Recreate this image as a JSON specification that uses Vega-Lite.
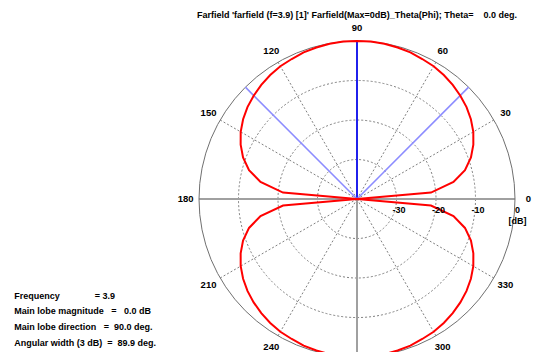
{
  "$schema": "https://vega.github.io/schema/vega-lite/v6.json",
  "autosize": {"type": "none"},
  "padding": {"left": 199, "top": 41, "right": 24, "bottom": 0},
  "width": 316,
  "height": 311,
  "background": "white",
  "config": {"view": {"stroke": null}},
  "title": {
    "text": "Farfield 'farfield (f=3.9) [1]' Farfield(Max=0dB)_Theta(Phi); Theta=\u00a0\u00a0\u00a0\u00a00.0 deg.",
    "font": "Liberation Sans",
    "fontSize": 9,
    "fontWeight": "bold",
    "color": "#000000",
    "anchor": "middle",
    "frame": "group",
    "offset": 3
  },
  "datasets": {
    "pattern": [
      {"angle": 0, "db": -40}, {"angle": 5, "db": -21.2}, {"angle": 10, "db": -15.2}, {"angle": 15, "db": -11.7},
      {"angle": 20, "db": -9.3}, {"angle": 25, "db": -7.5}, {"angle": 30, "db": -6.0}, {"angle": 35, "db": -4.8},
      {"angle": 40, "db": -3.8}, {"angle": 45, "db": -3.0}, {"angle": 50, "db": -2.3}, {"angle": 55, "db": -1.7},
      {"angle": 60, "db": -1.2}, {"angle": 65, "db": -0.9}, {"angle": 70, "db": -0.5}, {"angle": 75, "db": -0.3},
      {"angle": 80, "db": -0.1}, {"angle": 85, "db": 0.0}, {"angle": 90, "db": 0.0}, {"angle": 95, "db": 0.0},
      {"angle": 100, "db": -0.1}, {"angle": 105, "db": -0.3}, {"angle": 110, "db": -0.5}, {"angle": 115, "db": -0.9},
      {"angle": 120, "db": -1.2}, {"angle": 125, "db": -1.7}, {"angle": 130, "db": -2.3}, {"angle": 135, "db": -3.0},
      {"angle": 140, "db": -3.8}, {"angle": 145, "db": -4.8}, {"angle": 150, "db": -6.0}, {"angle": 155, "db": -7.5},
      {"angle": 160, "db": -9.3}, {"angle": 165, "db": -11.7}, {"angle": 170, "db": -15.2}, {"angle": 175, "db": -21.2},
      {"angle": 180, "db": -40}, {"angle": 185, "db": -21.2}, {"angle": 190, "db": -15.2}, {"angle": 195, "db": -11.7},
      {"angle": 200, "db": -9.3}, {"angle": 205, "db": -7.5}, {"angle": 210, "db": -6.0}, {"angle": 215, "db": -4.8},
      {"angle": 220, "db": -3.8}, {"angle": 225, "db": -3.0}, {"angle": 230, "db": -2.3}, {"angle": 235, "db": -1.7},
      {"angle": 240, "db": -1.2}, {"angle": 245, "db": -0.9}, {"angle": 250, "db": -0.5}, {"angle": 255, "db": -0.3},
      {"angle": 260, "db": -0.1}, {"angle": 265, "db": 0.0}, {"angle": 270, "db": 0.0}, {"angle": 275, "db": 0.0},
      {"angle": 280, "db": -0.1}, {"angle": 285, "db": -0.3}, {"angle": 290, "db": -0.5}, {"angle": 295, "db": -0.9},
      {"angle": 300, "db": -1.2}, {"angle": 305, "db": -1.7}, {"angle": 310, "db": -2.3}, {"angle": 315, "db": -3.0},
      {"angle": 320, "db": -3.8}, {"angle": 325, "db": -4.8}, {"angle": 330, "db": -6.0}, {"angle": 335, "db": -7.5},
      {"angle": 340, "db": -9.3}, {"angle": 345, "db": -11.7}, {"angle": 350, "db": -15.2}, {"angle": 355, "db": -21.2},
      {"angle": 360, "db": -40}
    ],
    "gridCircles": [{"db": -30}, {"db": -20}, {"db": -10}],
    "outerCircle": [{"db": 0}],
    "spokes": [{"angle": 30}, {"angle": 60}, {"angle": 120}, {"angle": 150}, {"angle": 210}, {"angle": 240}, {"angle": 300}, {"angle": 330}],
    "axes": [{"angle": 0}, {"angle": 90}, {"angle": 180}, {"angle": 270}],
    "beams": [
      {"angle": 90, "kind": "Main lobe direction"},
      {"angle": 45.05, "kind": "3 dB limit"},
      {"angle": 134.95, "kind": "3 dB limit"}
    ],
    "angleLabels": [
      {"angle": 0, "label": "0"}, {"angle": 30, "label": "30"}, {"angle": 60, "label": "60"}, {"angle": 90, "label": "90"},
      {"angle": 120, "label": "120"}, {"angle": 150, "label": "150"}, {"angle": 180, "label": "180"}, {"angle": 210, "label": "210"},
      {"angle": 240, "label": "240"}, {"angle": 300, "label": "300"}, {"angle": 330, "label": "330"}
    ],
    "dbLabels": [{"db": -30, "label": "-30"}, {"db": -20, "label": "-20"}, {"db": -10, "label": "-10"}, {"db": 0, "label": "0"}],
    "unitLabel": [{"label": "[dB]", "db": 0}],
    "info": [{"lines": [
      "Frequency\u00a0\u00a0\u00a0\u00a0\u00a0\u00a0\u00a0\u00a0\u00a0\u00a0\u00a0\u00a0\u00a0\u00a0= 3.9",
      "Main lobe magnitude\u00a0\u00a0\u00a0=\u00a0\u00a0\u00a00.0 dB",
      "Main lobe direction\u00a0\u00a0\u00a0=\u00a0\u00a090.0 deg.",
      "Angular width (3 dB)\u00a0\u00a0=\u00a0\u00a089.9 deg."
    ]}]
  },
  "layer": [
    {
      "data": {"name": "gridCircles"},
      "transform": [
        {"calculate": "datum.db + 40", "as": "r"},
        {"calculate": "0", "as": "cx"},
        {"calculate": "0", "as": "cy"}
      ],
      "mark": {"type": "point", "shape": "circle", "filled": false, "stroke": "#808080", "strokeWidth": 1, "strokeDash": [2, 2], "opacity": 1, "clip": false},
      "encoding": {
        "x": {"field": "cx", "type": "quantitative", "scale": {"domain": [-40, 40], "nice": false, "zero": false}, "axis": null},
        "y": {"field": "cy", "type": "quantitative", "scale": {"domain": [-38.73, 40], "nice": false, "zero": false}, "axis": null},
        "size": {"field": "r", "type": "quantitative", "scale": {"type": "pow", "exponent": 2, "domain": [0, 40], "range": [0, 99856]}, "legend": null}
      }
    },
    {
      "data": {"name": "spokes"},
      "transform": [
        {"calculate": "0", "as": "x0"},
        {"calculate": "0", "as": "y0"},
        {"calculate": "40 * cos(datum.angle * PI / 180)", "as": "xe"},
        {"calculate": "40 * sin(datum.angle * PI / 180)", "as": "ye"}
      ],
      "mark": {"type": "rule", "stroke": "#808080", "strokeWidth": 1, "strokeDash": [2, 2]},
      "encoding": {
        "x": {"field": "x0", "type": "quantitative", "axis": null},
        "y": {"field": "y0", "type": "quantitative", "axis": null},
        "x2": {"field": "xe"},
        "y2": {"field": "ye"}
      }
    },
    {
      "data": {"name": "axes"},
      "transform": [
        {"calculate": "0", "as": "x0"},
        {"calculate": "0", "as": "y0"},
        {"calculate": "40 * cos(datum.angle * PI / 180)", "as": "xe"},
        {"calculate": "40 * sin(datum.angle * PI / 180)", "as": "ye"}
      ],
      "mark": {"type": "rule", "stroke": "#a0a0a0", "strokeWidth": 2},
      "encoding": {
        "x": {"field": "x0", "type": "quantitative", "axis": null},
        "y": {"field": "y0", "type": "quantitative", "axis": null},
        "x2": {"field": "xe"},
        "y2": {"field": "ye"}
      }
    },
    {
      "data": {"name": "outerCircle"},
      "transform": [
        {"calculate": "datum.db + 40", "as": "r"},
        {"calculate": "0", "as": "cx"},
        {"calculate": "0", "as": "cy"}
      ],
      "mark": {"type": "point", "shape": "circle", "filled": false, "stroke": "#707070", "strokeWidth": 1, "opacity": 1, "clip": false},
      "encoding": {
        "x": {"field": "cx", "type": "quantitative", "axis": null},
        "y": {"field": "cy", "type": "quantitative", "axis": null},
        "size": {"field": "r", "type": "quantitative", "legend": null}
      }
    },
    {
      "data": {"name": "beams"},
      "transform": [
        {"calculate": "0", "as": "x0"},
        {"calculate": "0", "as": "y0"},
        {"calculate": "40 * cos(datum.angle * PI / 180)", "as": "xe"},
        {"calculate": "40 * sin(datum.angle * PI / 180)", "as": "ye"}
      ],
      "mark": {"type": "rule", "strokeWidth": 1.6},
      "encoding": {
        "x": {"field": "x0", "type": "quantitative", "axis": null},
        "y": {"field": "y0", "type": "quantitative", "axis": null},
        "x2": {"field": "xe"},
        "y2": {"field": "ye"},
        "color": {"field": "kind", "type": "nominal", "scale": {"domain": ["Main lobe direction", "3 dB limit"], "range": ["#0000ff", "#8c8cff"]}, "legend": null}
      }
    },
    {
      "data": {"name": "pattern"},
      "transform": [
        {"calculate": "(datum.db + 40) * cos(datum.angle * PI / 180)", "as": "px"},
        {"calculate": "(datum.db + 40) * sin(datum.angle * PI / 180)", "as": "py"}
      ],
      "mark": {"type": "line", "color": "#ff0000", "strokeWidth": 2, "clip": false},
      "encoding": {
        "x": {"field": "px", "type": "quantitative", "axis": null},
        "y": {"field": "py", "type": "quantitative", "axis": null},
        "order": {"field": "angle", "type": "quantitative"}
      }
    },
    {
      "data": {"name": "angleLabels"},
      "transform": [
        {"calculate": "43.4 * cos(datum.angle * PI / 180)", "as": "lx"},
        {"calculate": "43.4 * sin(datum.angle * PI / 180)", "as": "ly"}
      ],
      "mark": {"type": "text", "font": "Liberation Sans", "fontSize": 9.5, "fontWeight": "bold", "color": "#000000", "align": "center", "baseline": "middle"},
      "encoding": {
        "x": {"field": "lx", "type": "quantitative", "axis": null},
        "y": {"field": "ly", "type": "quantitative", "axis": null},
        "text": {"field": "label", "type": "nominal"}
      }
    },
    {
      "data": {"name": "dbLabels"},
      "transform": [
        {"calculate": "datum.db + 40", "as": "r"},
        {"calculate": "0", "as": "y0"}
      ],
      "mark": {"type": "text", "font": "Liberation Sans", "fontSize": 9, "fontWeight": "bold", "color": "#000000", "align": "center", "baseline": "middle", "dx": 2.5, "dy": 10.5},
      "encoding": {
        "x": {"field": "r", "type": "quantitative", "axis": null},
        "y": {"field": "y0", "type": "quantitative", "axis": null},
        "text": {"field": "label", "type": "nominal"}
      }
    },
    {
      "data": {"name": "unitLabel"},
      "transform": [
        {"calculate": "datum.db + 40", "as": "r"},
        {"calculate": "0", "as": "y0"}
      ],
      "mark": {"type": "text", "font": "Liberation Sans", "fontSize": 9, "fontWeight": "bold", "color": "#000000", "align": "center", "baseline": "middle", "dx": 2.5, "dy": 22},
      "encoding": {
        "x": {"field": "r", "type": "quantitative", "axis": null},
        "y": {"field": "y0", "type": "quantitative", "axis": null},
        "text": {"field": "label", "type": "nominal"}
      }
    },
    {
      "data": {"name": "info"},
      "transform": [
        {"calculate": "-86.8", "as": "ix"},
        {"calculate": "-24.43", "as": "iy"}
      ],
      "mark": {"type": "text", "font": "Liberation Sans", "fontSize": 9, "fontWeight": "bold", "color": "#000000", "align": "left", "baseline": "middle", "lineHeight": 15.75},
      "encoding": {
        "x": {"field": "ix", "type": "quantitative", "axis": null},
        "y": {"field": "iy", "type": "quantitative", "axis": null},
        "text": {"field": "lines", "type": "nominal"}
      }
    }
  ]
}
